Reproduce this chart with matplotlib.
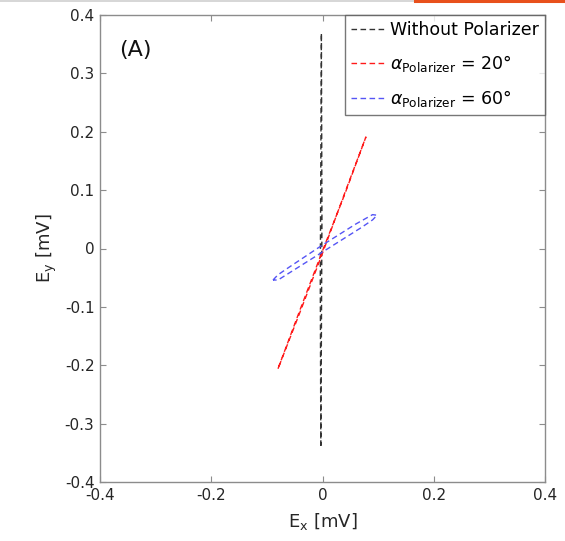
import matplotlib
matplotlib.use("Agg")
import matplotlib.pyplot as plt
from matplotlib.lines import Line2D

# ---- data ----
# Without polarizer: very thin loop close to Ex = 0
black_x = [-0.003, -0.002, -0.001, -0.002, -0.003, -0.004, -0.003]
black_y = [-0.338, -0.15, 0.05, 0.369, 0.15, -0.05, -0.338]

# alpha = 20 deg
red_x = [-0.080, -0.04, 0.0, 0.04, 0.078, 0.04, 0.0, -0.04, -0.080]
red_y = [-0.206, -0.104, -0.004, 0.093, 0.191, 0.095, -0.008, -0.108, -0.206]

# alpha = 60 deg
blue_x = [-0.089, -0.08, -0.06, -0.03, 0.0, 0.03, 0.06, 0.09, 0.098, 0.09, 0.07, 0.04, 0.01, -0.02, -0.05, -0.08, -0.089]
blue_y = [-0.054, -0.045, -0.032, -0.013, 0.006, 0.024, 0.042, 0.058, 0.057, 0.049, 0.036, 0.018, 0.000, -0.018, -0.036, -0.054, -0.054]

labels = ["Without Polarizer",
          r"$\alpha_{\mathrm{Polarizer}}$ = 20°",
          r"$\alpha_{\mathrm{Polarizer}}$ = 60°"]
ticks = [-0.4, -0.3, -0.2, -0.1, 0, 0.1, 0.2, 0.3, 0.4]
xticks = [-0.4, -0.2, 0, 0.2, 0.4]

plt.rcParams['font.family'] = ['DejaVu Sans']
plt.rcParams['mathtext.fontset'] = 'dejavusans'

fig = plt.figure(figsize=(5.65, 5.41), dpi=100)
ax = fig.add_axes([100/565, 1-482/541, 445/565, 467/541])

dash = (4, 2.5)
ax.plot(black_x, black_y, color='#333333', lw=1.0, ls='--', dashes=dash, label=labels[0])
ax.plot(red_x, red_y, color='#ff1a1a', lw=1.0, ls='--', dashes=dash, label=labels[1])
ax.plot(blue_x, blue_y, color='#5555f5', lw=1.0, ls='--', dashes=dash, label=labels[2])

ax.set_xlim(-0.4, 0.4)
ax.set_ylim(-0.4, 0.4)
ax.set_xticks(xticks)
ax.set_xticklabels(['-0.4', '-0.2', '0', '0.2', '0.4'])
ax.set_yticks(ticks)
ax.set_yticklabels(['-0.4', '-0.3', '-0.2', '-0.1', '0', '0.1', '0.2', '0.3', '0.4'])

axcol = '#8c8c8c'
for s in ax.spines.values():
    s.set_color(axcol)
    s.set_linewidth(1.0)
ax.tick_params(direction='in', length=4, width=0.8, color=axcol,
               labelsize=11, labelcolor='#262626', top=True, right=True, pad=4)

ax.set_xlabel(r"E$_\mathrm{x}$ [mV]", fontsize=13, color='#262626', labelpad=6)
ax.set_ylabel(r"E$_\mathrm{y}$ [mV]", fontsize=13, color='#262626', labelpad=4)

ax.text(-0.365, 0.34, "(A)", fontsize=16, color='#111111', va='center', ha='left')

leg = ax.legend(loc='upper right', fontsize=12.5, frameon=True, fancybox=False,
                borderaxespad=0, handlelength=2.0, handletextpad=0.25,
                labelspacing=0.8, borderpad=0.35)
leg.get_frame().set_edgecolor('#555555')
leg.get_frame().set_linewidth(1.0)

# screenshot frame remnants at the top
fig.add_artist(Line2D([0, 415/565], [1-1/541, 1-1/541], color='#cfcfcf', lw=1.2, transform=fig.transFigure))
fig.add_artist(Line2D([415/565, 1], [1-1.2/541, 1-1.2/541], color='#e8501c', lw=2.2, transform=fig.transFigure))

fig.savefig("out.png", dpi=100)
